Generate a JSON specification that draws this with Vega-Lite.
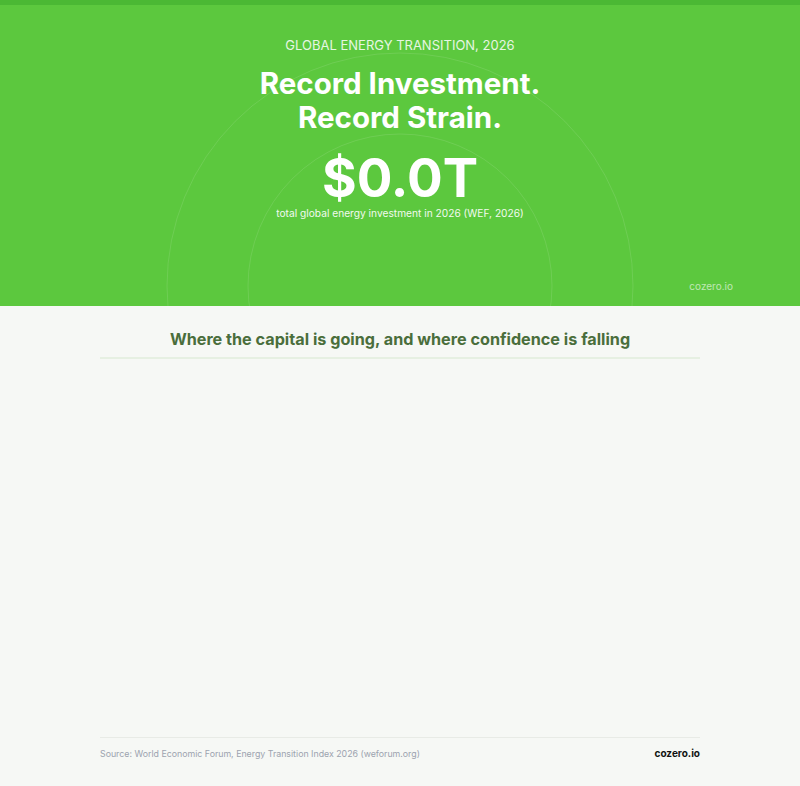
{
  "$schema": "https://vega.github.io/schema/vega-lite/v6.json",
  "width": 800,
  "height": 786,
  "autosize": {"type": "fit", "contains": "padding"},
  "padding": 0,
  "background": "#f6f8f5",
  "config": {
    "view": {"stroke": null},
    "axis": {"disable": true},
    "text": {"font": "Inter"}
  },
  "data": {
    "values": [
      {"part": "hero"},
      {"part": "strip"},
      {"part": "ring"},
      {"part": "body"},
      {"part": "eyebrow", "text": "GLOBAL ENERGY TRANSITION, 2026"},
      {"part": "headline", "text": "Record Investment.\nRecord Strain."},
      {"part": "figure", "text": "$0.0T"},
      {"part": "caption", "text": "total global energy investment in 2026 (WEF, 2026)"},
      {"part": "hero_brand", "text": "cozero.io"},
      {"part": "section", "text": "Where the capital is going, and where confidence is falling"},
      {"part": "rule"},
      {"part": "source", "text": "Source: World Economic Forum, Energy Transition Index 2026 (weforum.org)"},
      {"part": "brand", "text": "cozero.io"}
    ]
  },
  "layer": [
    {
      "transform": [{"filter": "datum.part == 'hero'"}],
      "mark": {"type": "rect", "color": "#5cc83e"},
      "encoding": {
        "x": {"datum": 0, "type": "quantitative", "scale": {"domain": [0, 800], "nice": false, "zero": false}, "axis": null},
        "x2": {"datum": 800},
        "y": {"datum": 0, "type": "quantitative", "scale": {"domain": [0, 786], "nice": false, "zero": false, "reverse": true}, "axis": null},
        "y2": {"datum": 306}
      }
    },
    {
      "transform": [{"filter": "datum.part == 'strip'"}],
      "mark": {"type": "rect", "color": "#4bb834"},
      "encoding": {
        "x": {"datum": 0, "type": "quantitative"},
        "x2": {"datum": 800},
        "y": {"datum": 0, "type": "quantitative"},
        "y2": {"datum": 5}
      }
    },
    {
      "transform": [{"filter": "datum.part == 'ring'"}],
      "mark": {"type": "point", "shape": "circle", "filled": false, "size": 217156, "stroke": "#ffffff", "strokeOpacity": 0.16, "strokeWidth": 1},
      "encoding": {
        "x": {"datum": 400, "type": "quantitative"},
        "y": {"datum": 286, "type": "quantitative"}
      }
    },
    {
      "transform": [{"filter": "datum.part == 'ring'"}],
      "mark": {"type": "point", "shape": "circle", "filled": false, "size": 92416, "stroke": "#ffffff", "strokeOpacity": 0.16, "strokeWidth": 1},
      "encoding": {
        "x": {"datum": 400, "type": "quantitative"},
        "y": {"datum": 286, "type": "quantitative"}
      }
    },
    {
      "transform": [{"filter": "datum.part == 'body'"}],
      "mark": {"type": "rect", "color": "#f6f8f5"},
      "encoding": {
        "x": {"datum": 0, "type": "quantitative"},
        "x2": {"datum": 800},
        "y": {"datum": 306, "type": "quantitative"},
        "y2": {"datum": 786}
      }
    },
    {
      "transform": [{"filter": "datum.part == 'eyebrow'"}],
      "mark": {"type": "text", "fontSize": 13, "fontWeight": 400, "color": "#ffffff", "opacity": 0.85, "align": "center", "baseline": "alphabetic"},
      "encoding": {
        "x": {"datum": 400, "type": "quantitative"},
        "y": {"datum": 50, "type": "quantitative"},
        "text": {"field": "text"}
      }
    },
    {
      "transform": [{"filter": "datum.part == 'headline'"}],
      "mark": {"type": "text", "fontSize": 29.5, "fontWeight": 700, "color": "#ffffff", "align": "center", "baseline": "alphabetic", "lineBreak": "\n", "lineHeight": 34},
      "encoding": {
        "x": {"datum": 400, "type": "quantitative"},
        "y": {"datum": 94, "type": "quantitative"},
        "text": {"field": "text"}
      }
    },
    {
      "transform": [{"filter": "datum.part == 'figure'"}],
      "mark": {"type": "text", "fontSize": 53, "fontWeight": 700, "color": "#ffffff", "align": "center", "baseline": "alphabetic"},
      "encoding": {
        "x": {"datum": 400, "type": "quantitative"},
        "y": {"datum": 197, "type": "quantitative"},
        "text": {"field": "text"}
      }
    },
    {
      "transform": [{"filter": "datum.part == 'caption'"}],
      "mark": {"type": "text", "fontSize": 10.2, "fontWeight": 400, "color": "#ffffff", "opacity": 0.92, "align": "center", "baseline": "alphabetic"},
      "encoding": {
        "x": {"datum": 400, "type": "quantitative"},
        "y": {"datum": 217, "type": "quantitative"},
        "text": {"field": "text"}
      }
    },
    {
      "transform": [{"filter": "datum.part == 'hero_brand'"}],
      "mark": {"type": "text", "fontSize": 10, "fontWeight": 400, "color": "#ffffff", "opacity": 0.6, "align": "right", "baseline": "alphabetic"},
      "encoding": {
        "x": {"datum": 733, "type": "quantitative"},
        "y": {"datum": 290, "type": "quantitative"},
        "text": {"field": "text"}
      }
    },
    {
      "transform": [{"filter": "datum.part == 'section'"}],
      "mark": {"type": "text", "fontSize": 16.2, "fontWeight": 700, "color": "#4a6e3c", "align": "center", "baseline": "alphabetic"},
      "encoding": {
        "x": {"datum": 400, "type": "quantitative"},
        "y": {"datum": 345, "type": "quantitative"},
        "text": {"field": "text"}
      }
    },
    {
      "transform": [{"filter": "datum.part == 'rule'"}],
      "mark": {"type": "rule", "color": "#d6e8cf", "strokeWidth": 1},
      "encoding": {
        "x": {"datum": 100, "type": "quantitative"},
        "x2": {"datum": 700},
        "y": {"datum": 358, "type": "quantitative"}
      }
    },
    {
      "transform": [{"filter": "datum.part == 'rule'"}],
      "mark": {"type": "rule", "color": "#e8ebe6", "strokeWidth": 1},
      "encoding": {
        "x": {"datum": 100, "type": "quantitative"},
        "x2": {"datum": 700},
        "y": {"datum": 737.5, "type": "quantitative"}
      }
    },
    {
      "transform": [{"filter": "datum.part == 'source'"}],
      "mark": {"type": "text", "fontSize": 8.8, "fontWeight": 400, "color": "#9ca3af", "align": "left", "baseline": "alphabetic"},
      "encoding": {
        "x": {"datum": 100, "type": "quantitative"},
        "y": {"datum": 757, "type": "quantitative"},
        "text": {"field": "text"}
      }
    },
    {
      "transform": [{"filter": "datum.part == 'brand'"}],
      "mark": {"type": "text", "fontSize": 10, "fontWeight": 700, "color": "#111111", "align": "right", "baseline": "alphabetic"},
      "encoding": {
        "x": {"datum": 700, "type": "quantitative"},
        "y": {"datum": 757, "type": "quantitative"},
        "text": {"field": "text"}
      }
    }
  ]
}
